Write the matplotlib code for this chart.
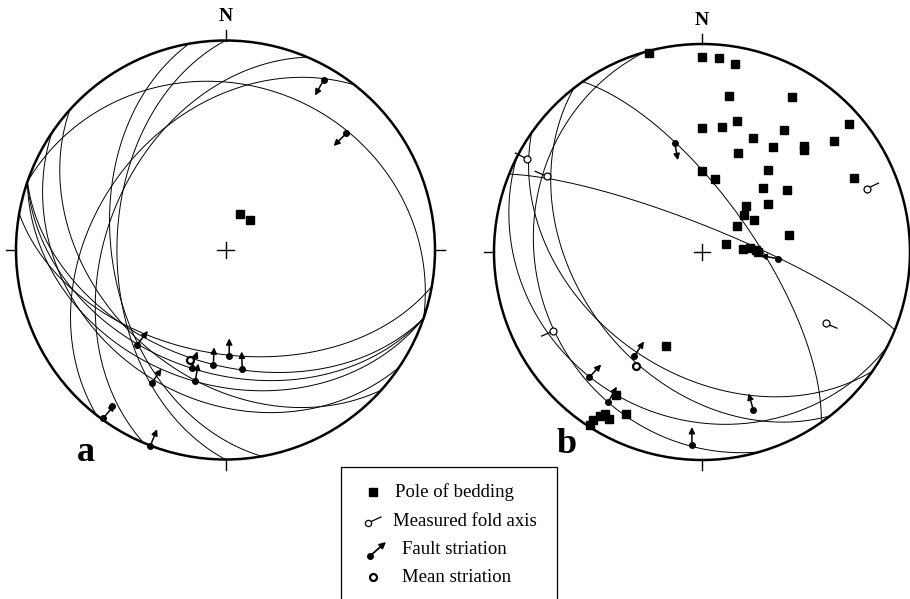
import numpy as np
import matplotlib
matplotlib.use('Agg')
import matplotlib.pyplot as plt
from matplotlib.patches import Circle, Rectangle

plt.rcParams['font.family'] = ['Liberation Serif', 'DejaVu Serif']

# ---------------- net a ----------------
# fault planes: dip direction / dip (deg)
planes_a_dipdir = [19, 308, 293, 260, 270, 222, 214, 190, 199, 199, 199]
planes_a_dip = [22, 38, 43, 45, 47, 40, 30, 49, 45, 41, 36]
# poles of bedding: trend / plunge
poles_a_trend = [22, 39]
poles_a_plunge = [75, 75]
# fault striations: trend / plunge of the dot, direction of the arrow on paper
striae_a_trend = [30, 46, 223, 209, 216, 216, 201, 196, 193, 186, 178, 172]
striae_a_plunge = [7, 21, 38, 28, 1, 9, 0, 41, 36, 44, 48, 42]
striae_a_arrow = [209, 225, 38, 34, 40, None, 22, 19, 10, 2, 0, 358]
mean_a_trend = [198]
mean_a_plunge = [44]

# ---------------- net b ----------------
planes_b_dipdir = [55, 22, 215, 232, 254, 207]
planes_b_dip = [70, 80, 42, 40, 21, 21]
poles_b_trend = [345, 0, 5, 10, 10, 30, 0, 9, 15, 24, 34, 49, 50, 45, 44, 20,
                 34, 0, 10, 39, 64, 44, 54, 44, 54, 49, 58, 54, 79, 72, 86, 85,
                 88, 90, 201, 205, 211, 213, 212, 211, 209, 213]
poles_b_plunge = [1, 7, 7, 9, 25, 15, 40, 39, 35, 40, 30, 7, 18, 31, 30, 48,
                  39, 58, 61, 48, 20, 55, 48, 65, 58, 68, 66, 73, 55, 80, 74, 71,
                  69, 68, 50, 15, 21, 4, 8, 10, 9, 1]
fold_b_trend = [298, 296, 69, 120, 242]
fold_b_plunge = [5, 18, 16, 32, 20]
fold_b_tail = [297, 293, 64, 113, 247]
striae_b_trend = [346, 95, 213, 222, 212, 162, 183]
striae_b_plunge = [45, 60, 40, 20, 16, 21, 8]
striae_b_arrow = [170, 280, 33, 43, 29, 344, 0]
mean_b_trend = [210]
mean_b_plunge = [37]

legend_labels = ['Pole of bedding', 'Measured fold axis', 'Fault striation', 'Mean striation']

W, H = 910, 599
LIM = 1.15


def project(trend, plunge):
  # lower hemisphere equal-area (Schmidt) projection
  t = np.radians(np.asarray(trend, dtype=float))
  p = np.radians(np.asarray(plunge, dtype=float))
  r = np.sqrt(2) * np.sin((np.pi / 2 - p) / 2)
  return r * np.sin(t), r * np.cos(t)


def great_circle(dipdir, dip, n=300):
  dd = np.radians(dipdir)
  d = np.radians(dip)
  rake = np.linspace(0, np.pi, n)
  s = np.array([np.cos(dd - np.pi / 2), np.sin(dd - np.pi / 2), 0.0])
  v = np.array([np.cos(dd) * np.cos(d), np.sin(dd) * np.cos(d), np.sin(d)])
  pts = np.outer(np.cos(rake), s) + np.outer(np.sin(rake), v)
  north, east, down = pts.T
  plunge = np.degrees(np.arcsin(np.clip(down, -1, 1)))
  trend = np.degrees(np.arctan2(east, north))
  return project(trend, plunge)


def add_net(fig, cx, cy, R):
  half = LIM * R
  ax = fig.add_axes([(cx - half) / W, (H - cy - half) / H, 2 * half / W, 2 * half / H])
  ax.set_xlim(-LIM, LIM)
  ax.set_ylim(-LIM, LIM)
  ax.set_aspect('equal')
  ax.axis('off')
  ax.add_patch(Circle((0, 0), 1, fill=False, lw=1.8, color='k', zorder=3))
  tl = 0.05
  for x0, y0, x1, y1 in [(0, 1, 0, 1 + tl), (0, -1, 0, -1 - tl),
                         (1, 0, 1 + tl, 0), (-1, 0, -1 - tl, 0)]:
    ax.plot([x0, x1], [y0, y1], color='k', lw=1.0)
  c = 0.04
  ax.plot([-c, c], [0, 0], color='k', lw=1.0)
  ax.plot([0, 0], [-c, c], color='k', lw=1.0)
  ax.text(0, 1.115, 'N', ha='center', va='center', fontsize=14, fontweight='bold')
  return ax


def draw_planes(ax, dipdirs, dips):
  for dd, d in zip(dipdirs, dips):
    x, y = great_circle(dd, d)
    ax.plot(x, y, color='k', lw=0.7, zorder=2)


def draw_striae(ax, trends, plunges, arrows, length=0.085):
  x, y = project(trends, plunges)
  for xi, yi, a in zip(x, y, arrows):
    if a is not None:
      az = np.radians(a)
      ax.annotate('', xy=(xi + length * np.sin(az), yi + length * np.cos(az)),
                  xytext=(xi, yi),
                  arrowprops=dict(arrowstyle='-|>', color='k', lw=1.1,
                                  mutation_scale=9, shrinkA=0, shrinkB=0))
  ax.plot(x, y, 'o', color='k', ms=4, zorder=5)


def draw_mean(ax, trends, plunges):
  x, y = project(trends, plunges)
  ax.plot(x, y, 'o', mfc='white', mec='k', mew=1.6, ms=5, zorder=6)


def draw_poles(ax, trends, plunges):
  x, y = project(trends, plunges)
  ax.plot(x, y, 's', color='k', ms=6, zorder=4)


def draw_folds(ax, trends, plunges, tails, length=0.06):
  x, y = project(trends, plunges)
  for xi, yi, a in zip(x, y, tails):
    az = np.radians(a)
    ax.plot([xi, xi + length * np.sin(az)], [yi, yi + length * np.cos(az)],
            color='k', lw=0.9, zorder=4)
  ax.plot(x, y, 'o', mfc='white', mec='k', mew=0.9, ms=5, zorder=5)


fig = plt.figure(figsize=(W / 100, H / 100), dpi=100)

ax_a = add_net(fig, 225.5, 250, 209.5)
draw_planes(ax_a, planes_a_dipdir, planes_a_dip)
draw_poles(ax_a, poles_a_trend, poles_a_plunge)
draw_striae(ax_a, striae_a_trend, striae_a_plunge, striae_a_arrow)
draw_mean(ax_a, mean_a_trend, mean_a_plunge)
ax_a.text(-0.668, -0.967, 'a', ha='center', va='center', fontsize=26, fontweight='bold')

ax_b = add_net(fig, 702, 252, 208)
draw_planes(ax_b, planes_b_dipdir, planes_b_dip)
draw_poles(ax_b, poles_b_trend, poles_b_plunge)
draw_folds(ax_b, fold_b_trend, fold_b_plunge, fold_b_tail)
draw_striae(ax_b, striae_b_trend, striae_b_plunge, striae_b_arrow)
draw_mean(ax_b, mean_b_trend, mean_b_plunge)
ax_b.text(-0.651, -0.925, 'b', ha='center', va='center', fontsize=26, fontweight='bold')

# legend box, laid out in figure pixels
lg = fig.add_axes([0, 0, 1, 1], facecolor='none')
lg.set_xlim(0, W)
lg.set_ylim(H, 0)
lg.axis('off')
lg.add_patch(Rectangle((341, 467), 216, 160, fill=False, lw=0.9, color='k'))
rows = [492, 521, 549, 577]
text_x = [395, 393, 402, 402]
for lab, ty, tx in zip(legend_labels, rows, text_x):
  lg.text(tx, ty, lab, ha='left', va='center', fontsize=13.5)
lg.plot([373], [rows[0]], 's', color='k', ms=5.5)
lg.plot([370, 381], [rows[1] + 1, rows[1] - 4], color='k', lw=0.9)
lg.plot([368], [rows[1] + 2], 'o', mfc='white', mec='k', mew=0.9, ms=4.5)
lg.annotate('', xy=(386, rows[2] - 7), xytext=(370, rows[2] + 7),
            arrowprops=dict(arrowstyle='-|>', color='k', lw=1.3,
                            mutation_scale=9, shrinkA=0, shrinkB=0))
lg.plot([370], [rows[2] + 7], 'o', color='k', ms=4)
lg.plot([373], [rows[3]], 'o', mfc='white', mec='k', mew=1.6, ms=5)

fig.savefig('out.png', dpi=100)
